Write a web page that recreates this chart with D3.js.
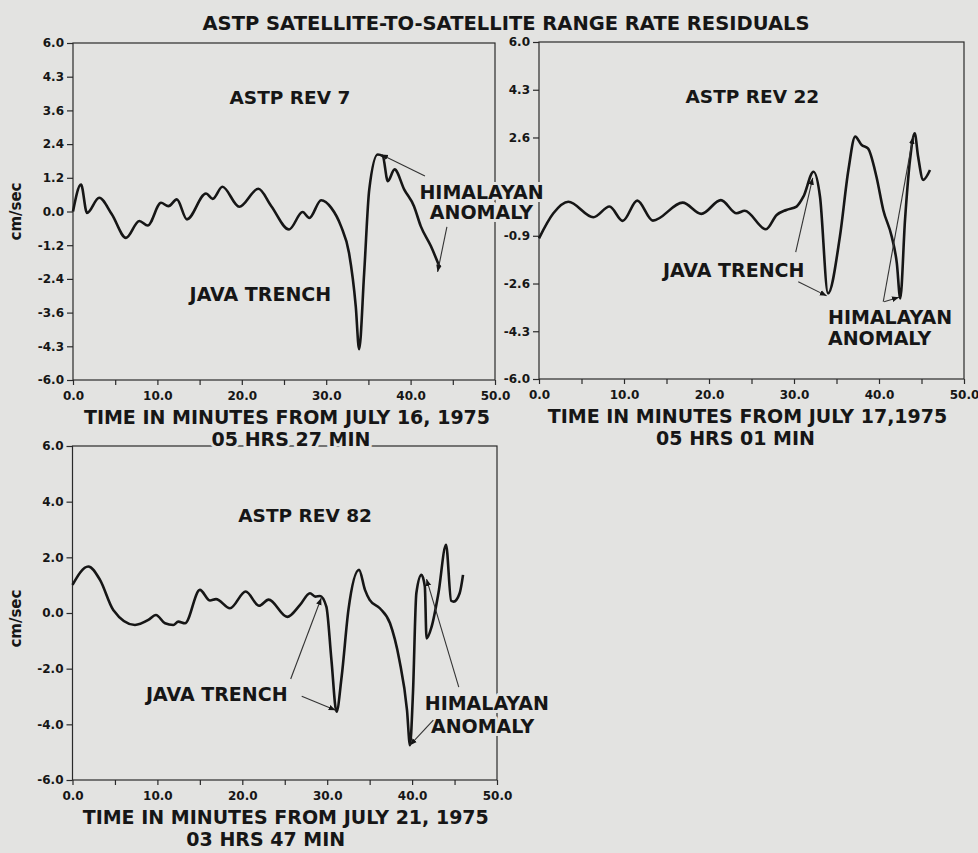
<!DOCTYPE html>
<html>
<head>
<meta charset="utf-8">
<script src="https://cdn.jsdelivr.net/npm/d3@7"></script>
<style>
  body { margin: 0; background: #e3e3e1; }
  svg { display: block; font-family: "DejaVu Sans", sans-serif; font-weight: bold; }
</style>
</head>
<body>
<div id="chart"></div>
<script>
// ASTP REV 7 residuals, minutes from July 16, 1975 05h27m
var rev7Time  = [0, 0.95, 1.66, 3.1, 4.6, 6.28, 7.86, 8.85, 10.43, 11.3, 12.3, 13.5, 15.76, 16.55, 17.7, 19.7, 21.96, 23.5, 25.6, 27.2, 28.0, 29.4, 30.6, 31.75, 32.7, 33.5, 33.9, 34.5, 35.1, 36.1, 36.7, 37.3, 38.1, 39.25, 40.4, 41.2, 42.4, 43.4];
var rev7Value = [0, 0.96, -0.05, 0.49, -0.1, -0.94, -0.34, -0.5, 0.31, 0.19, 0.43, -0.28, 0.64, 0.45, 0.88, 0.17, 0.81, 0.19, -0.64, -0.02, -0.23, 0.40, 0.13, -0.52, -1.47, -3.37, -4.9, -2.18, 0.78, 2.03, 1.97, 1.08, 1.5, 0.78, 0.19, -0.52, -1.23, -1.95];

// ASTP REV 22 residuals, minutes from July 17, 1975 05h01m
var rev22Time  = [0, 1.69, 3.45, 6.4, 8.3, 9.85, 11.56, 13.4, 16.9, 19.1, 21.4, 23.25, 24.2, 26.7, 27.96, 29.1, 30.3, 31.1, 32.3, 33.06, 34.0, 35.4, 36.4, 37.2, 37.96, 38.7, 39.7, 40.5, 41.5, 42.1, 42.5, 43.06, 43.65, 44.2, 44.6, 45.2, 46.0];
var rev22Value = [-0.99, -0.1, 0.31, -0.24, 0.14, -0.37, 0.35, -0.36, 0.28, -0.12, 0.37, -0.1, -0.01, -0.67, -0.16, 0.02, 0.14, 0.49, 1.38, 0.49, -2.95, -0.93, 1.44, 2.63, 2.33, 2.21, 1.2, 0.02, -0.93, -1.88, -3.13, -0.34, 1.8, 2.75, 1.92, 1.09, 1.44];

// ASTP REV 82 residuals, minutes from July 21, 1975 03h47m
var rev82Time  = [0, 1.86, 3.24, 4.8, 7.36, 8.93, 9.83, 10.9, 11.87, 12.46, 13.25, 15.0, 16.2, 16.9, 18.55, 20.4, 21.97, 23.1, 25.3, 26.8, 27.97, 28.6, 29.15, 29.9, 30.5, 31.1, 31.7, 32.5, 33.75, 34.45, 35.0, 36.2, 37.4, 38.5, 39.4, 39.75, 40.1, 40.5, 41.1, 41.5, 41.7, 42.3, 43.1, 44.0, 44.6, 44.9, 45.6, 46.0];
var rev82Value = [1.01, 1.67, 1.19, 0.11, -0.43, -0.25, -0.07, -0.37, -0.43, -0.31, -0.37, 0.83, 0.45, 0.5, 0.17, 0.77, 0.26, 0.48, -0.14, 0.29, 0.71, 0.59, 0.61, 0.23, -1.69, -3.55, -2.29, 0.11, 1.55, 0.83, 0.47, 0.17, -0.37, -1.69, -3.49, -4.75, -2.89, 0.71, 1.37, 0.95, -0.91, -0.49, 0.71, 2.45, 0.44, 0.41, 0.71, 1.37];

// axis ticks (labels as printed on the original; REV 22's 0.9 label is covered by the annotation)
var timeTicks = [0, 5, 10, 15, 20, 25, 30, 35, 40, 45, 50];
var timeTickLabels = ["0.0", "", "10.0", "", "20.0", "", "30.0", "", "40.0", "", "50.0"];
var rev7Ticks  = [-6, -4.8, -3.6, -2.4, -1.2, 0, 1.2, 2.4, 3.6, 4.8, 6];
var rev7Labels = ["-6.0", "-4.3", "-3.6", "-2.4", "-1.2", "0.0", "1.2", "2.4", "3.6", "4.3", "6.0"];
var rev22Ticks  = [-6, -4.3, -2.6, -0.9, 0.9, 2.6, 4.3, 6];
var rev22Labels = ["-6.0", "-4.3", "-2.6", "-0.9", "", "2.6", "4.3", "6.0"];
var rev82Ticks  = [-6, -4, -2, 0, 2, 4, 6];
var rev82Labels = ["-6.0", "-4.0", "-2.0", "0.0", "2.0", "4.0", "6.0"];

var bg = "#e3e3e1";
var ink = "#161616";

var svg = d3.select("#chart").append("svg")
  .attr("width", 978)
  .attr("height", 853);

svg.append("defs").append("marker")
  .attr("id", "arrow")
  .attr("viewBox", "0 -5 10 10")
  .attr("refX", 10)
  .attr("markerWidth", 7)
  .attr("markerHeight", 7)
  .attr("markerUnits", "userSpaceOnUse")
  .attr("orient", "auto")
  .append("path")
  .attr("d", "M0,-4L10,0L0,4Z")
  .attr("fill", ink);

svg.append("text")
  .attr("x", 506).attr("y", 30)
  .attr("text-anchor", "middle")
  .attr("font-size", 19.5)
  .attr("fill", ink)
  .text("ASTP SATELLITE-TO-SATELLITE RANGE RATE RESIDUALS");

var layers = {
  frame: svg.append("g"),
  curve: svg.append("g"),
  label: svg.append("g"),
  arrow: svg.append("g")
};

function halo(sel) {
  return sel.attr("fill", ink)
    .attr("stroke", bg).attr("stroke-width", 6)
    .attr("stroke-linejoin", "round")
    .style("paint-order", "stroke");
}

function drawPanel(p) {
  var x = d3.scaleLinear().domain([0, 50]).range([p.left, p.right]);
  var y = d3.scaleLinear().domain([-6, 6]).range([p.bottom, p.top]);

  var g = layers.frame.append("g");
  g.append("rect")
    .attr("x", p.left).attr("y", p.top)
    .attr("width", p.right - p.left).attr("height", p.bottom - p.top)
    .attr("fill", "none").attr("stroke", "#2a2a2a").attr("stroke-width", 1.2);

  var ya = g.append("g")
    .attr("transform", "translate(" + p.left + ",0)")
    .call(d3.axisLeft(y).tickValues(p.ticks)
      .tickFormat(function(d, i) { return p.labels[i]; })
      .tickSize(6).tickPadding(3));
  var xa = g.append("g")
    .attr("transform", "translate(0," + p.bottom + ")")
    .call(d3.axisBottom(x).tickValues(timeTicks)
      .tickFormat(function(d, i) { return timeTickLabels[i]; })
      .tickSize(5).tickPadding(6));
  [ya, xa].forEach(function(a) {
    a.select(".domain").remove();
    a.selectAll("line").attr("stroke", "#2a2a2a").attr("stroke-width", 1.2);
    a.selectAll("text").attr("font-size", 12).attr("fill", ink)
      .attr("font-family", "DejaVu Sans").attr("font-weight", "bold");
  });

  var line = d3.line()
    .x(function(d, i) { return x(p.time[i]); })
    .y(function(d) { return y(d); })
    .curve(d3.curveMonotoneX);
  layers.curve.append("path")
    .attr("d", line(p.value))
    .attr("fill", "none")
    .attr("stroke", ink)
    .attr("stroke-width", 2.6)
    .attr("stroke-linejoin", "round");

  var L = layers.label;
  L.append("text")
    .attr("x", x(p.title[1])).attr("y", y(p.title[2]))
    .attr("text-anchor", "middle").attr("font-size", 18.5).attr("fill", ink)
    .text(p.title[0]);

  p.notes.forEach(function(n) {
    L.append("text")
      .attr("x", x(n[1])).attr("y", y(n[2]))
      .attr("text-anchor", n[3]).attr("font-size", 19)
      .call(halo)
      .text(n[0]);
  });

  var cx = (p.left + p.right) / 2;
  L.append("text")
    .attr("x", cx + p.xtitleShift[0]).attr("y", p.bottom + 44)
    .attr("text-anchor", "middle").attr("font-size", 19).call(halo)
    .text(p.xtitle[0]);
  L.append("text")
    .attr("x", cx + p.xtitleShift[1]).attr("y", p.bottom + 66)
    .attr("text-anchor", "middle").attr("font-size", 19).call(halo)
    .text(p.xtitle[1]);

  if (p.ylabel) {
    L.append("text")
      .attr("transform", "translate(" + (p.left - 52) + "," + y(p.ylabelAt) + ") rotate(-90)")
      .attr("text-anchor", "middle").attr("font-size", 15).attr("fill", ink)
      .text("cm/sec");
  }

  p.arrows.forEach(function(a) {
    layers.arrow.append("line")
      .attr("x1", x(a[0])).attr("y1", y(a[1]))
      .attr("x2", x(a[2])).attr("y2", y(a[3]))
      .attr("stroke", "#333").attr("stroke-width", 1.1)
      .attr("marker-end", "url(#arrow)");
  });
}

drawPanel({
  left: 73, right: 495, top: 43, bottom: 380,
  time: rev7Time, value: rev7Value, ticks: rev7Ticks, labels: rev7Labels,
  title: ["ASTP REV 7", 25.7, 3.83],
  notes: [["HIMALAYAN", 48.4, 0.46, "middle"], ["ANOMALY", 48.4, -0.25, "middle"],
          ["JAVA TRENCH", 22.2, -3.19, "middle"]],
  arrows: [[41.7, 1.26, 36.5, 2.03], [44.3, -0.55, 43.2, -2.15]],
  xtitle: ["TIME IN MINUTES FROM JULY 16, 1975", "05 HRS 27 MIN"],
  xtitleShift: [3, 7],
  ylabel: true, ylabelAt: 0
});

drawPanel({
  left: 539, right: 964, top: 42, bottom: 379,
  time: rev22Time, value: rev22Value, ticks: rev22Ticks, labels: rev22Labels,
  title: ["ASTP REV 22", 25.1, 3.83],
  notes: [["JAVA TRENCH", 22.9, -2.37, "middle"],
          ["HIMALAYAN", 34.0, -4.03, "start"], ["ANOMALY", 34.0, -4.79, "start"]],
  arrows: [[30.2, -1.48, 32.2, 1.16], [30.5, -2.54, 33.85, -3.04],
           [40.5, -3.25, 44.0, 2.62], [40.6, -3.25, 42.35, -3.09]],
  xtitle: ["TIME IN MINUTES FROM JULY 17,1975", "05 HRS 01 MIN"],
  xtitleShift: [-4, -16],
  ylabel: false
});

drawPanel({
  left: 72.5, right: 497, top: 446, bottom: 780,
  time: rev82Time, value: rev82Value, ticks: rev82Ticks, labels: rev82Labels,
  title: ["ASTP REV 82", 27.4, 3.27],
  notes: [["JAVA TRENCH", 17.0, -3.17, "middle"],
          ["HIMALAYAN", 48.8, -3.49, "middle"], ["ANOMALY", 48.3, -4.32, "middle"]],
  arrows: [[25.7, -2.37, 29.3, 0.54], [27.0, -2.99, 31.0, -3.49],
           [42.5, -3.85, 39.75, -4.75], [45.5, -2.66, 41.7, 1.22]],
  xtitle: ["TIME IN MINUTES FROM JULY 21, 1975", "03 HRS 47 MIN"],
  xtitleShift: [1, -19],
  ylabel: true, ylabelAt: -0.2
});

// the bottom title line of REV 7 breaks the frame of REV 82 below it
layers.label.raise();
layers.arrow.raise();
</script>
</body>
</html>
